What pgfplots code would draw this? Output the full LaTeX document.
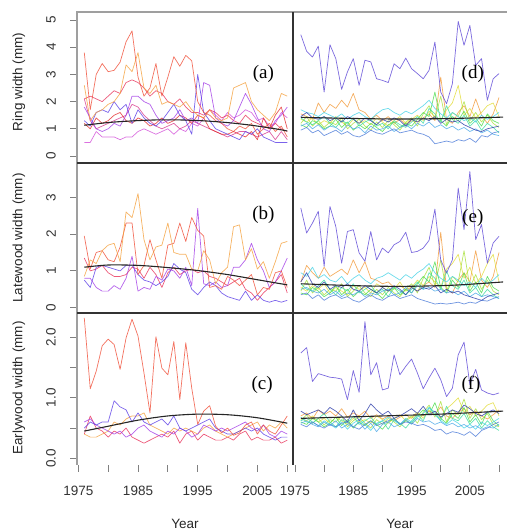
\documentclass[border=0pt]{standalone}
\usepackage{fontspec}
\setmainfont{Liberation Sans}
\newfontfamily\panelfont{Liberation Serif}
\usepackage{pgfplots}
\usepackage{pgfplotstable}
\pgfplotsset{compat=1.18}

\definecolor{cTom}{HTML}{F04E37}
\definecolor{cOra}{HTML}{F4A03C}
\definecolor{cCri}{HTML}{E8325A}
\definecolor{cBvi}{HTML}{5A3CE6}
\definecolor{cPur}{HTML}{A23CE6}
\definecolor{cOrc}{HTML}{D24ED8}
\definecolor{cRed}{HTML}{E42A2A}
\definecolor{cPin}{HTML}{D8388C}
\definecolor{rTop}{HTML}{5B45D6}
\definecolor{rOra}{HTML}{F29A3A}
\definecolor{rYel}{HTML}{E2DC3A}
\definecolor{rYgr}{HTML}{A8E03A}
\definecolor{rGre}{HTML}{4CDC4C}
\definecolor{rSpg}{HTML}{3CDCA0}
\definecolor{rCya}{HTML}{46D2E6}
\definecolor{rSky}{HTML}{4AA8E8}
\definecolor{rBlu}{HTML}{4A7AD8}
\definecolor{rNav}{HTML}{2A3AA8}

\pgfplotstableread{
yr a1 a2 a3 a4 a5 a6 a7 a8
1976 3.8 2.6 2.1 1.3 1.8 0.5 1.2 2.1
1977 1.7 1.3 2.2 1.1 1.4 0.5 1.0 1.3
1978 3.0 1.6 2.1 1.6 1.0 0.9 1.4 1.0
1979 3.4 1.7 2.0 1.7 0.9 0.7 1.2 1.1
1980 3.1 1.9 2.2 1.6 1.0 0.7 1.3 1.2
1981 3.15 2.0 2.4 2.0 1.2 0.7 1.5 1.3
1982 3.45 2.3 2.3 1.7 1.1 0.6 1.6 1.4
1983 4.2 3.35 2.7 1.9 1.5 0.7 1.3 1.5
1984 4.6 3.1 2.8 1.2 2.2 0.7 1.2 1.9
1985 2.9 3.8 2.7 1.7 2.2 0.9 1.4 1.8
1986 2.2 2.5 2.5 1.4 2.0 1.0 1.3 1.5
1987 2.5 2.3 2.2 1.2 1.9 0.9 1.1 1.3
1988 3.4 2.6 2.4 1.1 1.5 0.8 1.2 1.1
1989 2.2 1.9 2.3 1.3 1.2 0.9 1.4 1.0
1990 2.9 2.0 2.0 1.6 1.3 1.0 1.2 1.1
1991 3.65 1.9 1.9 1.9 1.4 0.8 1.3 1.2
1992 3.3 1.8 2.1 1.5 1.7 1.0 1.5 1.0
1993 3.7 2.0 1.8 1.3 1.3 0.9 1.4 1.1
1994 3.5 1.7 1.6 0.8 1.4 1.2 1.2 1.3
1995 2.0 1.5 1.6 3.0 1.2 1.1 1.5 1.2
1996 1.6 1.4 1.5 1.6 2.7 1.4 1.4 1.1
1997 1.5 1.7 1.7 1.3 2.6 1.7 1.0 1.0
1998 1.3 1.4 1.6 1.0 1.4 1.5 0.9 0.9
1999 1.2 1.3 1.4 0.9 1.2 1.3 0.8 0.8
2000 1.0 1.4 1.5 0.8 1.1 1.6 0.8 0.7
2001 0.9 2.5 1.3 0.7 1.3 1.4 0.9 0.8
2002 1.1 2.6 1.2 0.6 1.8 1.5 0.8 0.9
2003 1.0 2.7 1.5 0.9 2.3 1.7 0.7 0.9
2004 1.2 2.0 1.3 0.8 1.9 1.6 0.9 0.8
2005 0.8 1.7 1.2 1.0 1.4 1.3 0.6 0.7
2006 1.0 1.5 1.1 0.7 1.0 1.4 1.4 0.8
2007 1.2 1.3 1.0 0.6 0.9 1.1 1.0 0.9
2008 0.9 1.6 1.2 0.5 1.3 1.2 1.5 0.6
2009 1.1 2.3 1.0 0.5 1.5 1.6 1.8 0.9
2010 0.7 2.2 0.9 0.5 1.8 1.4 1.0 0.6
}\tA

\pgfplotstableread{
yr b1 b2 b3 b4 b5
1976 0.85 1.95 1.35 0.80 0.75
1977 1.30 1.05 1.00 0.80 0.55
1978 1.20 1.50 1.05 0.55 1.10
1979 1.55 1.55 1.15 0.45 1.15
1980 1.70 1.30 0.95 0.45 1.10
1981 1.75 1.25 0.85 0.60 1.05
1982 1.25 1.65 0.85 0.50 1.00
1983 2.60 2.30 0.90 0.80 1.15
1984 2.45 2.30 1.10 1.40 1.15
1985 3.10 0.90 1.05 0.45 0.90
1986 1.85 1.15 0.80 0.55 0.75
1987 1.30 1.85 1.10 0.50 0.70
1988 1.65 1.30 0.90 0.85 0.60
1989 1.70 0.80 0.55 0.75 0.70
1990 2.30 1.70 0.95 1.05 0.85
1991 1.50 1.75 1.10 1.00 1.20
1992 1.45 2.30 0.90 0.80 1.05
1993 1.45 1.80 1.00 1.10 0.95
1994 1.05 2.45 1.05 0.60 0.50
1995 1.00 2.10 0.95 2.70 0.35
1996 1.55 1.95 1.00 0.65 0.55
1997 1.30 0.55 0.85 0.60 0.70
1998 0.65 0.60 0.80 0.70 0.60
1999 0.95 0.50 0.70 0.55 0.40
2000 1.10 0.85 0.60 0.60 0.30
2001 2.20 0.75 0.70 1.10 0.25
2002 2.25 0.60 0.80 1.10 0.20
2003 1.30 0.75 0.50 1.30 0.45
2004 1.60 0.90 0.40 1.75 0.20
2005 1.05 0.35 0.20 1.30 0.35
2006 1.25 0.55 0.40 1.00 0.20
2007 0.80 0.50 0.55 0.55 0.15
2008 1.25 0.95 0.70 0.70 0.20
2009 1.75 1.00 0.90 1.00 0.15
2010 1.80 0.55 0.40 1.35 0.20
}\tB

\pgfplotstableread{
yr c1 c2 c3 c4 c5
1976 2.32 0.50 0.60 0.40 0.40
1977 1.15 0.60 0.65 0.35 0.70
1978 1.44 0.55 0.55 0.35 0.50
1979 1.86 0.60 0.50 0.40 0.45
1980 1.97 0.60 0.45 0.45 0.35
1981 1.88 0.95 0.40 0.60 0.45
1982 1.47 0.85 0.45 0.55 0.40
1983 1.99 0.80 0.35 0.65 0.50
1984 2.30 0.60 0.40 0.70 0.35
1985 2.02 0.75 0.50 0.70 0.30
1986 1.41 0.60 0.55 0.75 0.25
1987 0.75 0.55 0.45 0.55 0.30
1988 2.01 0.60 0.40 0.50 0.35
1989 1.49 0.65 0.35 0.45 0.40
1990 1.38 0.55 0.45 0.40 0.35
1991 1.93 0.70 0.40 0.50 0.45
1992 0.97 0.50 0.50 0.45 0.25
1993 1.91 0.45 0.45 0.50 0.40
1994 1.16 0.50 0.35 0.45 0.45
1995 0.56 0.55 0.40 0.40 0.30
1996 0.78 0.60 0.55 0.50 0.40
1997 0.87 0.65 0.50 0.55 0.35
1998 0.53 0.50 0.45 0.45 0.30
1999 0.42 0.45 0.50 0.40 0.30
2000 0.50 0.40 0.45 0.35 0.35
2001 0.38 0.40 0.50 0.40 0.30
2002 0.42 0.45 0.55 0.45 0.40
2003 0.55 0.50 0.60 0.50 0.45
2004 0.60 0.45 0.50 0.55 0.30
2005 0.40 0.50 0.45 0.60 0.35
2006 0.55 0.40 0.55 0.45 0.30
2007 0.45 0.35 0.40 0.55 0.30
2008 0.40 0.30 0.35 0.50 0.35
2009 0.55 0.35 0.45 0.60 0.25
2010 0.70 0.35 0.40 0.50 0.30
}\tC

\pgfplotstableread{
yr d1 d2 d3 d4 d5 d6 d7 d8 d9 d10
1976 4.46 1.55 1.35 1.20 1.15 1.40 1.70 1.10 0.95 1.45
1977 3.85 1.45 1.25 1.45 1.05 1.25 1.60 1.20 1.05 1.60
1978 3.64 1.35 1.40 1.10 1.30 1.15 1.55 1.00 0.85 1.40
1979 4.04 1.95 1.15 1.30 1.20 1.30 1.45 1.15 0.95 1.35
1980 2.35 1.60 1.30 1.05 1.00 1.45 1.60 0.95 0.75 1.45
1981 4.09 1.90 1.20 1.25 1.10 1.20 1.50 1.10 0.85 1.30
1982 3.58 1.75 1.45 1.15 1.35 1.05 1.40 1.05 0.95 1.40
1983 2.45 2.05 1.25 1.40 1.05 1.30 1.55 0.90 0.80 1.25
1984 3.09 1.80 1.10 1.00 1.25 1.20 1.35 1.15 0.90 1.45
1985 3.58 2.30 1.35 1.20 0.95 1.40 1.50 1.00 0.75 1.35
1986 2.60 1.70 1.20 1.35 1.15 1.10 1.60 1.05 0.70 1.20
1987 3.52 1.60 1.30 1.10 1.00 1.25 1.45 0.85 0.80 1.40
1988 3.46 1.35 1.15 0.95 1.20 1.35 1.35 1.10 0.95 1.30
1989 2.84 1.50 1.40 1.25 1.05 1.10 1.55 0.95 0.85 1.15
1990 2.78 1.30 1.25 1.05 0.90 1.20 1.70 1.00 0.80 1.35
1991 2.70 1.45 1.10 1.30 1.15 1.00 1.75 1.10 0.90 1.25
1992 3.39 1.20 1.30 1.15 1.25 1.30 1.60 0.90 1.00 1.40
1993 3.21 1.35 1.45 0.95 1.05 1.15 1.50 1.05 0.85 1.30
1994 3.60 1.15 1.20 1.25 1.20 1.05 1.65 1.15 0.90 1.10
1995 3.21 1.30 1.35 1.40 1.10 1.25 1.55 1.00 0.95 1.35
1996 3.03 1.25 1.50 1.10 1.35 1.45 1.70 1.20 0.85 1.25
1997 2.84 1.40 1.30 1.55 1.60 1.20 1.85 1.10 0.80 1.40
1998 3.15 1.55 1.65 1.85 1.45 1.75 2.05 1.25 0.70 1.30
1999 4.19 1.30 1.45 1.35 2.35 1.55 1.75 1.05 0.45 1.45
2000 2.35 2.90 1.30 2.20 1.30 1.25 1.55 1.15 0.50 1.20
2001 1.92 1.35 1.70 1.15 1.10 1.85 1.40 1.00 0.55 1.35
2002 2.66 1.20 1.95 1.60 1.45 1.35 1.60 1.10 0.50 1.25
2003 4.95 1.60 2.60 1.45 1.30 1.20 1.45 0.95 0.60 1.30
2004 4.07 1.85 1.50 2.00 1.65 1.50 1.30 1.05 0.55 1.15
2005 4.80 1.45 1.75 1.30 1.20 1.10 1.40 0.90 0.65 1.05
2006 3.33 2.10 1.40 1.60 1.40 1.30 1.25 1.00 0.50 0.95
2007 3.58 1.50 1.60 1.25 1.10 0.95 1.50 0.85 0.75 0.90
2008 2.05 1.20 1.85 1.50 1.55 1.20 1.35 0.95 0.70 1.00
2009 2.84 1.55 1.95 1.20 1.30 1.05 1.45 0.80 0.85 1.05
2010 3.03 2.15 1.45 1.05 1.20 0.85 1.60 0.75 0.90 1.10
}\tD

\pgfplotstableread{
yr e1 e2 e3 e4 e5 e6 e7 e8 e9 e10
1976 2.71 0.70 0.55 0.45 0.40 0.65 0.95 0.50 0.35 0.70
1977 2.03 1.15 0.45 0.75 0.35 0.50 0.85 0.55 0.40 0.95
1978 2.30 0.95 0.60 0.40 0.55 0.45 1.10 0.45 0.25 0.65
1979 2.62 0.80 0.50 0.55 0.45 0.60 0.80 0.40 0.35 0.55
1980 1.12 1.10 0.65 0.35 0.30 0.75 0.90 0.50 0.20 0.70
1981 2.75 0.85 0.40 0.50 0.40 0.50 0.75 0.35 0.30 0.50
1982 2.21 0.95 0.55 0.45 0.60 0.35 0.70 0.45 0.35 0.60
1983 1.21 1.05 0.45 0.65 0.35 0.55 0.85 0.30 0.25 0.55
1984 2.07 0.90 0.35 0.30 0.50 0.45 0.65 0.40 0.30 0.65
1985 2.12 1.30 0.60 0.45 0.30 0.65 0.80 0.35 0.20 0.50
1986 1.49 0.95 0.50 0.60 0.45 0.40 0.90 0.45 0.15 0.45
1987 1.26 1.25 0.55 0.40 0.35 0.50 0.75 0.30 0.25 0.60
1988 2.07 0.80 0.40 0.30 0.50 0.60 0.65 0.40 0.35 0.50
1989 1.30 0.75 0.65 0.50 0.40 0.40 0.80 0.35 0.25 0.40
1990 1.62 0.65 0.55 0.35 0.25 0.50 0.85 0.45 0.20 0.55
1991 1.49 0.70 0.45 0.55 0.45 0.30 0.95 0.50 0.30 0.45
1992 1.71 0.55 0.50 0.40 0.55 0.55 0.85 0.35 0.35 0.60
1993 1.80 0.60 0.70 0.30 0.35 0.45 0.75 0.40 0.25 0.50
1994 2.05 0.50 0.45 0.50 0.50 0.35 0.90 0.55 0.30 0.35
1995 1.50 0.55 0.55 0.65 0.40 0.50 0.80 0.40 0.35 0.55
1996 1.53 0.45 0.75 0.40 0.65 0.70 0.95 0.60 0.25 0.45
1997 1.62 0.60 0.60 0.80 0.85 0.50 1.05 0.50 0.20 0.55
1998 1.83 0.70 0.85 1.10 0.70 0.95 1.20 0.55 0.15 0.50
1999 2.68 0.55 0.70 0.60 1.25 0.80 0.95 0.45 0.10 0.60
2000 1.30 2.05 0.55 1.30 0.55 0.50 0.80 0.50 0.12 0.40
2001 0.94 0.50 1.05 0.45 0.40 1.00 0.70 0.40 0.10 0.50
2002 1.30 0.40 1.20 0.85 0.75 0.60 0.85 0.45 0.12 0.40
2003 3.25 0.75 1.45 0.70 0.55 0.50 0.75 0.35 0.15 0.45
2004 2.12 0.95 0.80 1.55 0.95 0.75 0.60 0.45 0.10 0.35
2005 3.70 0.70 1.10 0.55 0.45 0.40 0.70 0.30 0.15 0.30
2006 1.85 1.55 0.65 0.90 0.70 0.55 0.55 0.40 0.12 0.25
2007 2.26 0.75 0.85 0.50 0.40 0.30 0.80 0.30 0.20 0.20
2008 1.21 0.55 1.20 0.75 0.85 0.50 0.65 0.35 0.18 0.30
2009 1.76 0.85 1.45 0.45 0.55 0.35 0.75 0.30 0.25 0.35
2010 1.94 1.50 0.70 0.35 0.45 0.25 0.90 0.25 0.30 0.40
}\tE

\pgfplotstableread{
yr f1 f2 f3 f4 f5 f6 f7 f8 f9 f10
1976 1.74 0.70 0.65 0.62 0.60 0.68 0.62 0.58 0.56 0.78
1977 1.83 0.75 0.62 0.72 0.56 0.60 0.66 0.62 0.52 0.72
1978 1.27 0.65 0.70 0.58 0.66 0.58 0.60 0.56 0.60 0.76
1979 1.40 0.80 0.60 0.66 0.60 0.66 0.54 0.52 0.54 0.80
1980 1.37 0.72 0.66 0.55 0.52 0.74 0.62 0.60 0.50 0.74
1981 1.34 0.78 0.58 0.64 0.58 0.60 0.56 0.54 0.56 0.84
1982 1.33 0.70 0.68 0.60 0.68 0.52 0.50 0.62 0.52 0.78
1983 1.31 0.82 0.62 0.70 0.54 0.64 0.60 0.50 0.58 0.70
1984 0.97 0.68 0.56 0.52 0.64 0.58 0.48 0.56 0.60 0.60
1985 1.45 0.75 0.66 0.62 0.50 0.70 0.58 0.52 0.52 0.80
1986 1.09 0.70 0.60 0.68 0.60 0.56 0.64 0.60 0.48 0.62
1987 2.26 0.78 0.64 0.58 0.54 0.62 0.56 0.48 0.56 0.74
1988 1.38 0.66 0.58 0.50 0.62 0.68 0.46 0.58 0.62 0.90
1989 1.58 0.72 0.70 0.64 0.56 0.56 0.58 0.44 0.54 0.80
1990 1.13 0.65 0.64 0.56 0.48 0.62 0.62 0.56 0.58 0.72
1991 1.16 0.70 0.58 0.66 0.60 0.48 0.68 0.60 0.62 0.78
1992 1.71 0.62 0.66 0.60 0.66 0.64 0.62 0.52 0.66 0.66
1993 1.38 0.68 0.72 0.52 0.56 0.58 0.56 0.56 0.56 0.70
1994 1.52 0.72 0.62 0.64 0.62 0.50 0.66 0.64 0.60 0.76
1995 1.64 0.66 0.68 0.70 0.58 0.62 0.60 0.56 0.58 0.82
1996 1.41 0.74 0.76 0.58 0.70 0.72 0.68 0.66 0.54 0.74
1997 1.15 0.70 0.66 0.76 0.80 0.62 0.74 0.60 0.56 0.86
1998 1.33 0.78 0.80 0.88 0.72 0.84 0.84 0.62 0.52 0.72
1999 1.49 0.72 0.72 0.68 0.92 0.76 0.72 0.56 0.46 0.78
2000 1.30 0.85 0.66 0.94 0.66 0.62 0.62 0.60 0.48 0.68
2001 1.02 0.70 0.82 0.60 0.58 0.86 0.56 0.54 0.40 0.74
2002 1.16 0.66 0.90 0.80 0.74 0.66 0.64 0.58 0.44 0.80
2003 1.71 0.76 1.00 0.72 0.66 0.62 0.58 0.52 0.42 0.76
2004 1.92 0.82 0.76 0.98 0.84 0.74 0.50 0.56 0.38 0.88
2005 1.22 0.72 0.86 0.66 0.60 0.56 0.56 0.50 0.44 0.82
2006 1.47 0.78 0.70 0.82 0.72 0.66 0.48 0.54 0.36 0.74
2007 1.13 0.70 0.78 0.64 0.56 0.50 0.60 0.48 0.46 0.70
2008 1.08 0.65 0.88 0.74 0.78 0.62 0.54 0.52 0.50 0.76
2009 1.05 0.72 0.92 0.56 0.62 0.52 0.60 0.50 0.56 0.80
2010 1.08 0.80 0.70 0.52 0.54 0.46 0.66 0.56 0.60 0.74
}\tF

\tikzset{plabel/.style={font=\panelfont\fontsize{19}{22}\selectfont, text=black}}
\pgfplotsset{
  trend/.style={black!85, line width=1.1pt, smooth, opacity=1},
  panel/.style={scale only axis, anchor=south west,
    axis line style={draw=none},
    tick align=outside, major tick length=7pt,
    tick style={color=gray, line width=0.8pt},
    xtick pos=bottom, ytick pos=left,
    every tick label/.append style={font=\fontsize{13.5}{16}\selectfont, text=black!80},
    /pgf/number format/assume math mode=true,
    yticklabel style={rotate=90, anchor=south, inner sep=0pt},
    xticklabel style={anchor=north, inner sep=0pt},
    yticklabel shift=14pt, xticklabel shift=14pt,
    every axis plot/.append style={line width=0.7pt, opacity=0.8, line join=round, mark=none},
  },
  leftcol/.style={panel, at={(77pt,#1)}, width=216pt, xmin=1974.78, xmax=2010.96},
  rightcol/.style={panel, at={(293pt,#1)}, width=214pt, xmin=1974.66, xmax=2011.37, ytick=\empty},
  row1/.style={height=151pt, ymin=-0.257, ymax=5.294, xtick=\empty},
  row2/.style={height=150pt, ymin=-0.144, ymax=3.932, xtick=\empty},
  row3/.style={height=152pt, ymin=-0.111, ymax=2.402,
    xtick={1975,1980,1985,1990,1995,2000,2005,2010},
    xticklabels={1975,,1985,,1995,,2005,}},
}

\begin{document}
\begin{tikzpicture}[x=1pt,y=1pt]
\useasboundingbox (0,0) rectangle (507,530);

% (a)
\begin{axis}[leftcol=367pt, row1, ytick={0,1,2,3,4,5}]
\addplot[cOrc] table[x=yr,y=a6]{\tA};
\addplot[cPin] table[x=yr,y=a8]{\tA};
\addplot[cRed] table[x=yr,y=a7]{\tA};
\addplot[cCri] table[x=yr,y=a3]{\tA};
\addplot[cPur] table[x=yr,y=a5]{\tA};
\addplot[cBvi] table[x=yr,y=a4]{\tA};
\addplot[cOra] table[x=yr,y=a2]{\tA};
\addplot[cTom] table[x=yr,y=a1]{\tA};
\addplot[trend] coordinates {(1976,1.13) (1980,1.23) (1984,1.29) (1988,1.326) (1992,1.326) (1996,1.293) (2000,1.228) (2004,1.13) (2008,1.0) (2010,0.92)};
\node[plabel] at (axis cs:2006,3.0) {(a)};
\end{axis}

% (d)
\begin{axis}[rightcol=367pt, row1]
\addplot[rOra] table[x=yr,y=d2]{\tD};
\addplot[rYel] table[x=yr,y=d3]{\tD};
\addplot[rYgr] table[x=yr,y=d4]{\tD};
\addplot[rGre] table[x=yr,y=d5]{\tD};
\addplot[rSpg] table[x=yr,y=d6]{\tD};
\addplot[rCya] table[x=yr,y=d7]{\tD};
\addplot[rSky] table[x=yr,y=d8]{\tD};
\addplot[rBlu] table[x=yr,y=d9]{\tD};
\addplot[rNav] table[x=yr,y=d10]{\tD};
\addplot[rTop] table[x=yr,y=d1]{\tD};
\addplot[trend] coordinates {(1976,1.42) (1985,1.38) (1993,1.36) (2002,1.38) (2010.7,1.43)};
\node[plabel] at (axis cs:2005.5,3.0) {(d)};
\end{axis}

% (b)
\begin{axis}[leftcol=217pt, row2, ytick={0,1,2,3}]
\addplot[cCri] table[x=yr,y=b3]{\tB};
\addplot[cBvi] table[x=yr,y=b5]{\tB};
\addplot[cPur] table[x=yr,y=b4]{\tB};
\addplot[cTom] table[x=yr,y=b2]{\tB};
\addplot[cOra] table[x=yr,y=b1]{\tB};
\addplot[trend] coordinates {(1976,1.10) (1980,1.16) (1985,1.15) (1990,1.09) (1995,1.01) (2000,0.90) (2005,0.76) (2010,0.62)};
\node[plabel] at (axis cs:2006,2.52) {(b)};
\end{axis}

% (e)
\begin{axis}[rightcol=217pt, row2]
\addplot[rOra] table[x=yr,y=e2]{\tE};
\addplot[rYel] table[x=yr,y=e3]{\tE};
\addplot[rYgr] table[x=yr,y=e4]{\tE};
\addplot[rGre] table[x=yr,y=e5]{\tE};
\addplot[rSpg] table[x=yr,y=e6]{\tE};
\addplot[rCya] table[x=yr,y=e7]{\tE};
\addplot[rSky] table[x=yr,y=e8]{\tE};
\addplot[rBlu] table[x=yr,y=e9]{\tE};
\addplot[rNav] table[x=yr,y=e10]{\tE};
\addplot[rTop] table[x=yr,y=e1]{\tE};
\addplot[trend] coordinates {(1976,0.65) (1985,0.60) (1993,0.58) (2002,0.61) (2010.7,0.70)};
\node[plabel] at (axis cs:2005.5,2.44) {(e)};
\end{axis}

% (c)
\begin{axis}[leftcol=65pt, row3, ytick={0,0.5,1,1.5,2}, yticklabels={0.0,,1.0,,2.0}]
\addplot[cCri] table[x=yr,y=c5]{\tC};
\addplot[cOra] table[x=yr,y=c4]{\tC};
\addplot[cPur] table[x=yr,y=c3]{\tC};
\addplot[cBvi] table[x=yr,y=c2]{\tC};
\addplot[cTom] table[x=yr,y=c1]{\tC};
\addplot[trend] coordinates {(1976,0.45) (1980,0.53) (1985,0.63) (1990,0.70) (1995,0.73) (2000,0.72) (2005,0.67) (2010,0.58)};
\node[plabel] at (axis cs:2005.8,1.21) {(c)};
\end{axis}

% (f)
\begin{axis}[rightcol=65pt, row3]
\addplot[rOra] table[x=yr,y=f2]{\tF};
\addplot[rYel] table[x=yr,y=f3]{\tF};
\addplot[rYgr] table[x=yr,y=f4]{\tF};
\addplot[rGre] table[x=yr,y=f5]{\tF};
\addplot[rSpg] table[x=yr,y=f6]{\tF};
\addplot[rCya] table[x=yr,y=f7]{\tF};
\addplot[rSky] table[x=yr,y=f8]{\tF};
\addplot[rBlu] table[x=yr,y=f9]{\tF};
\addplot[rNav] table[x=yr,y=f10]{\tF};
\addplot[rTop] table[x=yr,y=f1]{\tF};
\addplot[trend] coordinates {(1976,0.66) (1990,0.70) (2000,0.73) (2010.7,0.78)};
\node[plabel] at (axis cs:2005.2,1.21) {(f)};
\end{axis}

% frame
\draw[gray!75, line width=1.5pt] (77,65) -- (77,518) -- (507,518);
\draw[black!80, line width=1.3pt] (293,65) -- (293,518);
\draw[black!80, line width=1.3pt] (77,367) -- (507,367);
\draw[black!80, line width=1.3pt] (77,217) -- (507,217);

% axis titles
\node[font=\fontsize{13.5}{16}\selectfont, text=black!85] at (185,6) {Year};
\node[font=\fontsize{13.5}{16}\selectfont, text=black!85] at (400,6) {Year};
\node[rotate=90, font=\fontsize{13.5}{16}\selectfont, text=black!85] at (19,448) {Ring width (mm)};
\node[rotate=90, font=\fontsize{13.5}{16}\selectfont, text=black!85] at (19,292) {Latewood width (mm)};
\node[rotate=90, font=\fontsize{13.5}{16}\selectfont, text=black!85] at (19,142) {Earlywood width (mm)};
\end{tikzpicture}
\end{document}
